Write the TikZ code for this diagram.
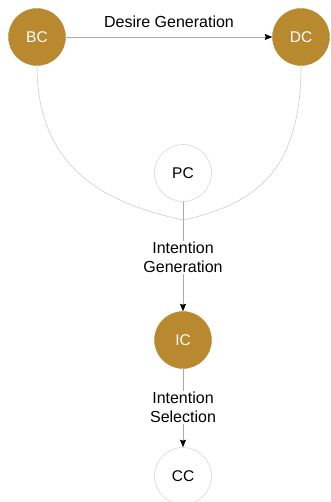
\documentclass[tikz,border=0pt]{standalone}
\usepackage{fontspec}
\setmainfont{Liberation Sans}
\usetikzlibrary{arrows.meta}
\definecolor{gold}{RGB}{185,137,48}
\definecolor{ringgray}{RGB}{215,215,215}
\definecolor{linegray}{RGB}{170,170,170}
\definecolor{curvegray}{RGB}{205,205,205}
\tikzset{
  x=1pt, y=-1pt,
  goldnode/.style={circle, fill=gold, draw=gold, minimum size=57pt, inner sep=0pt,
    text=white, font=\fontsize{15.5}{18}\selectfont},
  plainnode/.style={circle, fill=white, draw=ringgray, line width=0.6pt, minimum size=57pt,
    inner sep=0pt, text=black, font=\fontsize{15.5}{18}\selectfont},
  flow/.style={draw=linegray, line width=0.6pt, -{Stealth[length=7.5pt,width=6pt,inset=1pt,color=black]}},
  merge/.style={draw=curvegray, line width=0.6pt},
  lbl/.style={font=\fontsize{16}{19}\selectfont, align=center, fill=white, inner sep=1pt}
}
\begin{document}
\begin{tikzpicture}
\useasboundingbox (0,0) rectangle (330,502);
\begin{scope}
\clip (0,0) rectangle (330,502);
% state nodes
\node[goldnode]  (bc) at (37,37)  {BC};
\node[goldnode]  (dc) at (301,37) {DC};
\node[plainnode] (pc) at (183,173) {PC};
\node[goldnode]  (ic) at (183,340) {IC};
\node[plainnode] (cc) at (183,476) {CC};
\coordinate (m) at (183,220);
% joining curves from BC and DC
\draw[merge] (bc.south) .. controls (37,175) and (115,205) .. (m);
\draw[merge] (dc.south) .. controls (301,175) and (251,205) .. (m);
% transitions
\draw[flow] (bc) -- (dc) node[midway, above=6pt, font=\fontsize{16}{19}\selectfont] (dg) {Desire Generation};
\draw[flow] (pc) -- (ic) node[lbl, pos=0.51] (ig) {Intention\\Generation};
\draw[flow] (ic) -- (cc) node[lbl, pos=0.49] (is) {Intention\\Selection};
\end{scope}
\end{tikzpicture}
\end{document}
